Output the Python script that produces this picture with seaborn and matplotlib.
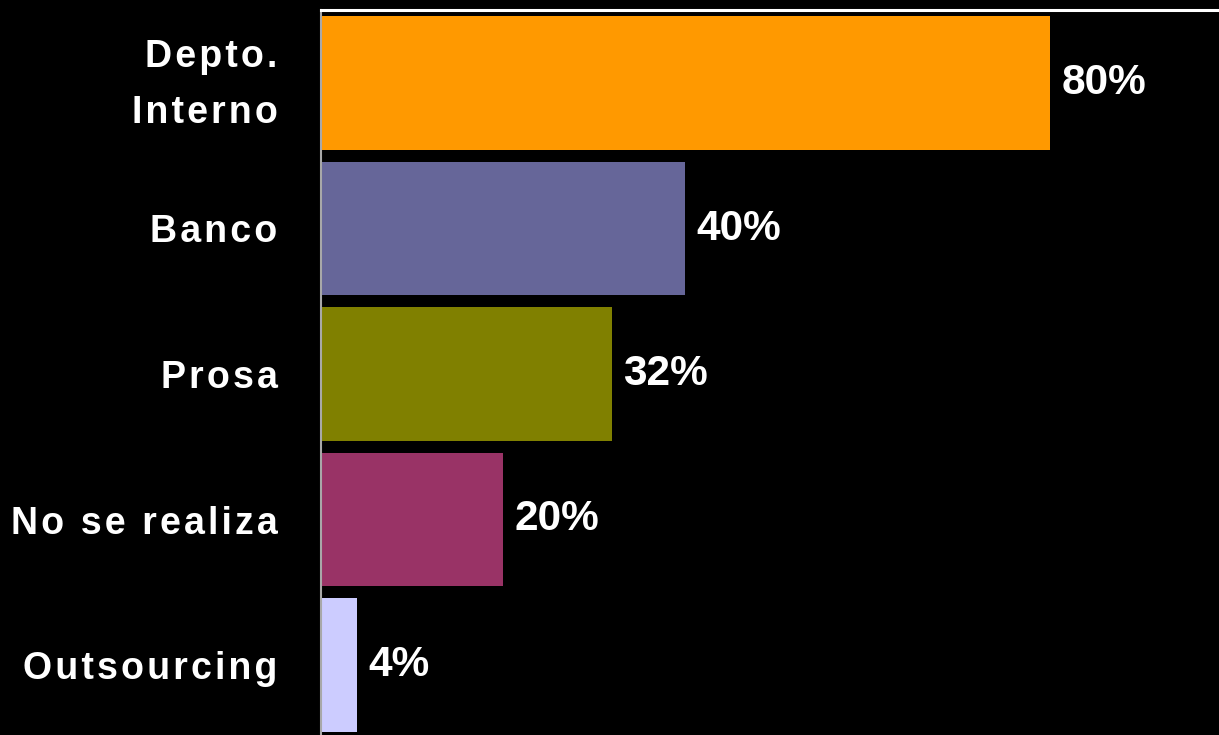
import matplotlib
matplotlib.use("Agg")
import matplotlib.pyplot as plt
import matplotlib.transforms as mtransforms
import seaborn as sns
import pandas as pd

# Responses: who carries out the task
categories = ["Depto.\nInterno", "Banco", "Prosa", "No se realiza", "Outsourcing"]
values = [80, 40, 32, 20, 4]
colors = ["#FF9900", "#666699", "#808000", "#993366", "#CCCCFF"]

sns.set_style("dark")
plt.rcParams["font.family"] = ["Liberation Sans", "DejaVu Sans"]

HAIR = "\u200a"


def spaced(text):
    """Widen the tracking of a label by putting hair spaces between letters."""
    return "\n".join(HAIR.join(line) for line in text.split("\n"))


df = pd.DataFrame({"categoria": categories, "porcentaje": values})

fig = plt.figure(figsize=(12.19, 7.35), dpi=100, facecolor="black")
ax = fig.add_axes([320.5 / 1219, -2.75 / 735, 912 / 1219, 727.5 / 735])
ax.set_facecolor("black")

sns.barplot(
    data=df, x="porcentaje", y="categoria", hue="categoria",
    palette=colors, orient="h", width=0.92, dodge=False,
    legend=False, saturation=1, linewidth=0, ax=ax,
)

ax.set_xlim(0, 100)
ax.set_ylim(4.5, -0.5)
ax.set_xlabel("")
ax.set_ylabel("")
ax.grid(False)
ax.set_xticks([])

ax.set_yticks(range(len(categories)))
ax.set_yticklabels([spaced(c) for c in categories], color="white",
                   fontsize=27, fontweight="bold", linespacing=1.7)
ax.tick_params(axis="y", which="major", length=0, pad=31)
ax.set_yticks([i + 0.5 for i in range(-1, len(categories) - 1)], minor=True)
ax.tick_params(axis="y", which="minor", length=2.5, width=1, color="#808080")

# keep two-line labels centred on their bar
lift = mtransforms.ScaledTranslation(0, 8.5 / 72, fig.dpi_scale_trans)
for tick in ax.yaxis.get_major_ticks():
    lbl = tick.label1
    if "\n" in lbl.get_text():
        lbl.set_transform(lbl.get_transform() + lift)

for name in ("right", "bottom"):
    ax.spines[name].set_visible(False)
ax.spines["left"].set_color("#a8a8a8")
ax.spines["left"].set_linewidth(1.5)
ax.spines["top"].set_color("white")
ax.spines["top"].set_linewidth(2.2)

for container in ax.containers:
    labels = [f"{v:g}%" for v in container.datavalues]
    ax.bar_label(container, labels=labels, padding=8, color="white",
                 fontsize=30.5, fontweight="bold")

fig.savefig("out.png", dpi=100, facecolor="black")
